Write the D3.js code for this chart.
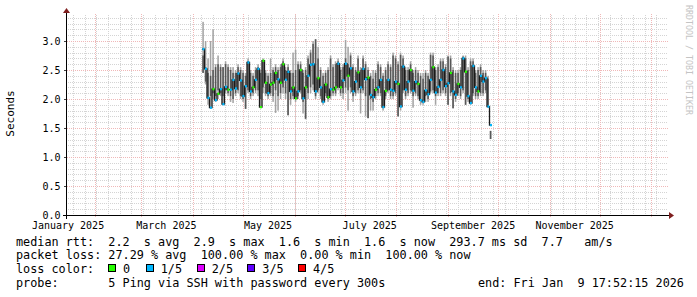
<!DOCTYPE html>
<html><head><meta charset="utf-8">
<script src="https://cdn.jsdelivr.net/npm/d3@7"></script>
<style>
body{margin:0;background:#fff}
svg{display:block}
text{font-family:"DejaVu Sans Mono",monospace;fill:#000}
</style>
</head><body>
<svg id="c" width="697" height="297"></svg>
<script>
// ---------------- data ----------------
const graphStart = new Date(2025, 0, 15, 9, 0);
const graphDays = 360;
const firstBin = new Date(2025, 3, 6, 9, 0);
const binHours = 36;

const median = [2.86,2.52,2.02,1.85,2.17,1.98,2.09,2.17,1.91,2.21,
 2.16,2.16,2.33,2.18,2.44,2.32,2.05,2.22,2.63,2.13,
 2.20,2.33,2.52,1.86,2.66,2.28,2.10,2.25,2.28,2.45,
 2.34,2.28,2.60,2.33,2.47,2.13,2.20,2.01,2.13,2.50,
 2.01,2.20,2.40,2.59,2.60,2.13,2.36,2.20,1.95,2.25,
 2.03,2.17,2.16,2.20,2.61,2.20,2.32,2.61,2.40,2.53,
 2.13,2.30,2.46,2.20,2.52,2.34,2.37,2.07,2.03,2.16,
 2.20,2.33,1.86,2.14,2.33,2.16,2.14,2.30,2.26,1.87,
 2.56,2.16,2.30,2.50,2.14,2.30,2.26,1.98,1.95,2.15,
 2.08,2.33,2.55,2.11,2.21,2.33,2.50,2.22,2.27,2.45,
 2.13,2.07,2.26,2.20,2.70,2.47,2.05,1.93,2.57,2.20,
 2.13,2.40,2.30,2.36,1.87,1.55];
// lost pings out of 5 per bin
const lostPings = [1,1,1,1,0,1,0,1,1,1,
 0,1,1,1,1,1,1,1,1,1,
 0,1,1,0,0,0,1,0,0,0,
 1,0,0,1,1,1,0,0,1,0,
 1,0,1,1,1,1,0,1,1,0,
 0,1,0,0,1,0,1,1,0,1,
 1,1,0,1,1,1,0,1,1,0,
 1,1,1,0,1,1,1,1,0,1,
 1,1,1,0,1,1,0,1,1,1,
 1,1,0,1,1,1,1,1,1,0,
 1,1,0,1,1,0,1,1,1,1,
 0,1,1,1,1,1];
const smokeMin = [2.45,2.25,1.90,1.85,2.00,1.95,2.00,2.05,1.90,2.10,
 2.05,1.95,1.93,2.05,2.10,2.00,1.95,1.83,2.10,2.00,
 2.05,2.10,2.05,1.86,2.10,2.05,2.00,2.05,1.95,1.76,
 1.80,2.00,2.10,2.00,1.72,1.90,2.00,1.95,2.00,2.10,
 1.75,1.65,2.00,2.10,2.15,2.00,2.10,2.00,1.90,2.05,
 1.95,2.00,2.05,2.05,2.15,2.05,2.00,2.10,1.80,2.10,
 1.95,2.05,2.10,1.75,2.10,1.70,1.67,1.80,1.80,2.00,
 2.05,2.05,1.80,2.00,2.10,2.00,2.00,2.05,1.70,1.80,
 2.10,2.00,2.05,2.10,1.85,2.05,2.00,1.90,1.90,1.95,
 1.95,2.10,2.10,1.90,2.05,2.05,2.10,2.05,1.90,2.05,
 1.84,1.95,2.05,2.00,2.10,1.90,1.95,1.90,2.05,2.00,
 2.00,2.05,2.05,2.10,1.85,1.31];
const smokeInnerMin = [2.45,2.30,2.00,2.05,2.10,2.05,2.15,2.10,2.05,2.15,
 2.10,2.05,2.00,2.10,2.15,2.05,2.00,1.83,2.15,2.05,
 2.10,2.15,2.15,2.00,2.20,2.10,2.05,2.10,2.05,2.15,
 2.05,2.10,2.20,2.10,1.72,2.00,2.05,2.00,2.05,2.15,
 1.95,1.66,2.10,2.20,2.25,2.05,2.15,2.05,1.95,2.10,
 2.00,2.05,2.10,2.10,2.20,2.10,2.10,2.20,2.15,2.20,
 2.05,2.10,2.15,2.10,2.15,2.05,1.67,2.00,1.95,2.05,
 2.10,2.10,1.86,2.05,2.15,2.05,2.05,2.10,1.70,1.87,
 2.15,2.05,2.10,2.15,2.05,2.10,2.05,1.98,1.95,2.05,
 2.00,2.13,2.15,2.05,2.10,2.10,2.15,2.10,1.90,2.10,
 1.84,2.00,2.10,2.05,2.15,1.90,2.00,1.93,2.10,2.05,
 2.05,2.10,2.10,2.15,1.87,1.31];
const smokeInnerMax = [2.75,2.55,2.45,2.40,2.50,2.55,2.60,2.55,2.55,2.60,
 2.55,2.50,2.45,2.45,2.55,2.50,2.45,2.40,2.65,2.45,
 2.40,2.50,2.55,2.45,2.66,2.45,2.40,2.45,2.50,2.55,
 2.50,2.55,2.65,2.50,2.55,2.45,2.45,2.50,2.60,2.60,
 2.45,2.50,2.70,2.80,2.95,3.03,2.70,2.50,2.40,2.45,
 2.50,2.70,2.55,2.60,2.65,2.50,2.55,2.70,2.60,2.75,
 2.55,2.50,2.70,2.50,2.70,2.60,2.50,2.40,2.35,2.45,
 2.60,2.55,2.40,2.50,2.60,2.55,2.75,2.70,2.60,2.76,
 2.70,2.50,2.50,2.60,2.45,2.50,2.45,2.40,2.35,2.45,
 2.40,2.76,2.75,2.50,2.55,2.65,2.65,2.55,2.73,2.70,
 2.50,2.45,2.45,2.50,2.73,2.70,2.50,2.65,2.65,2.45,
 2.50,2.55,2.45,2.45,2.35,1.45];
const smokeMax = [3.33,3.00,2.70,3.00,3.20,2.60,2.75,2.60,2.55,2.65,
 2.60,2.55,2.55,2.50,2.60,2.55,2.50,2.45,2.70,2.50,
 2.45,2.55,2.60,2.50,2.70,2.50,2.45,2.70,2.55,2.60,
 2.55,2.60,2.70,2.55,2.60,2.50,2.80,2.85,2.65,2.65,
 2.50,2.55,2.75,2.85,3.00,3.03,2.90,2.55,2.45,2.50,
 2.55,2.75,2.60,2.65,2.70,2.55,2.60,3.02,2.90,2.80,
 2.60,2.55,2.75,2.55,2.75,2.65,2.55,2.45,2.50,2.50,
 2.65,2.60,2.45,2.55,2.65,2.60,2.80,2.75,2.65,2.80,
 2.75,2.55,2.55,2.65,2.50,2.55,2.50,2.45,2.45,2.50,
 2.45,2.80,2.80,2.55,2.60,2.70,2.70,2.60,2.75,2.75,
 2.55,2.50,2.50,2.55,2.75,2.75,2.55,2.70,2.70,2.50,
 2.55,2.60,2.50,2.50,2.40,1.45];

const yTicks = [0, 0.5, 1.0, 1.5, 2.0, 2.5, 3.0];
const yLabel = "Seconds";
const lossLabels = ["0", "1/5", "2/5", "3/5", "4/5"];
const lossColors = ["#26ff00", "#00b8ff", "#dd00ff", "#5e00ff", "#ff0000"];
const legendMedian = "median rtt:  2.2  s avg  2.9  s max  1.6  s min  1.6  s now  293.7 ms sd  7.7   am/s";
const legendLoss = "packet loss: 27.29 % avg  100.00 % max  0.00 % min  100.00 % now";
const legendLossTitle = "loss color:";
const legendProbe = "probe:       5 Ping via SSH with password every 300s";
const legendEnd = "end: Fri Jan  9 17:52:15 2026";
const watermark = "RRDTOOL / TOBI OETIKER";

// ---------------- chart ----------------
const svg = d3.select("#c");
const X0 = 67, X1 = 667, Y0 = 215, Y1 = 15;
const tEnd = d3.timeDay.offset(graphStart, graphDays);
const x = d3.scaleTime().domain([graphStart, tEnd]).range([X0, X1]);
const y = d3.scaleLinear().domain([0, 200 / 58]).range([Y0, Y1]);

const gridCol = "#d4d4d4", mgridCol = "#f0b8b8";
const g = svg.append("g").attr("shape-rendering", "crispEdges");

// minor horizontal grid (0.1)
const minorY = d3.range(1, 35).map(i => i / 10).filter(v => Math.abs(v * 2 - Math.round(v * 2)) > 1e-6);
minorY.forEach(v => {
  const yy = Math.round(y(v)) + 0.5;
  g.append("line").attr("x1", X0 - 1).attr("x2", X1 + 1).attr("y1", yy).attr("y2", yy)
    .attr("stroke", gridCol).attr("stroke-dasharray", "1,1");
});
// minor vertical grid (weeks)
const weeks = d3.timeSunday.range(graphStart, tEnd);
weeks.forEach(t => {
  const xx = Math.round(x(t)) + 0.5;
  g.append("line").attr("x1", xx).attr("x2", xx).attr("y1", Y0 + 1).attr("y2", Y1 - 1)
    .attr("stroke", gridCol).attr("stroke-dasharray", "1,1");
});
// major horizontal grid
yTicks.filter(v => v > 0).forEach(v => {
  const yy = Math.round(y(v)) + 0.5;
  g.append("line").attr("x1", X0 - 2).attr("x2", X1 + 2).attr("y1", yy).attr("y2", yy)
    .attr("stroke", mgridCol).attr("stroke-dasharray", "1,1");
});
// major vertical grid (months)
const months = d3.timeMonth.range(d3.timeMonth.ceil(graphStart), tEnd);
months.forEach(t => {
  const xx = Math.round(x(t)) + 0.5;
  g.append("line").attr("x1", xx).attr("x2", xx).attr("y1", Y0 + 2).attr("y2", Y1 - 2)
    .attr("stroke", mgridCol).attr("stroke-dasharray", "1,1");
});
// y tick marks
yTicks.forEach(v => {
  const yy = Math.round(y(v)) + 0.5;
  g.append("line").attr("x1", X0 - 3).attr("x2", X0).attr("y1", yy).attr("y2", yy)
    .attr("stroke", "#404040");
});

// ---------------- smoke ----------------
const bins = median.map((m, i) => ({
  t0: d3.timeHour.offset(firstBin, i * binHours),
  t1: d3.timeHour.offset(firstBin, (i + 1) * binHours),
  m, lost: lostPings[i],
  lo: smokeMin[i], dlo: smokeInnerMin[i], dhi: smokeInnerMax[i], hi: smokeMax[i]
}));
const barW = d => (x(d.t1) - x(d.t0)) * 0.62;
const dg = svg.append("g");
dg.selectAll("rect.outer").data(bins).join("rect").attr("class", "outer")
  .attr("x", d => x(d.t0) + 0.3).attr("width", barW)
  .attr("y", d => y(d.hi)).attr("height", d => y(d.lo) - y(d.hi)).attr("fill", "#a4a4a4");
dg.selectAll("rect.inner").data(bins).join("rect").attr("class", "inner")
  .attr("x", d => x(d.t0) + 0.3).attr("width", barW)
  .attr("y", d => y(d.dhi)).attr("height", d => y(d.dlo) - y(d.dhi)).attr("fill", "#585858");

// median step line
const pts = bins.map(d => ({ t: d.t0, m: d.m }));
pts.push({ t: bins[bins.length - 1].t1, m: bins[bins.length - 1].m });
svg.append("path").datum(pts)
  .attr("d", d3.line().x(d => x(d.t)).y(d => y(d.m)).curve(d3.curveStepAfter))
  .attr("fill", "none").attr("stroke", "#1a1a1a").attr("stroke-width", 1.3);

// loss-coloured median marks
svg.selectAll("rect.med").data(bins).join("rect").attr("class", "med")
  .attr("x", d => x(d.t0) + 0.4).attr("width", 2)
  .attr("y", d => y(d.m) - 1.2).attr("height", 2.4)
  .attr("fill", d => lossColors[d.lost]);

// ---------------- axes ----------------
svg.append("line").attr("x1", X0 - 4).attr("x2", X1 + 4).attr("y1", Y0 + 0.5).attr("y2", Y0 + 0.5)
  .attr("stroke", "#000");
svg.append("line").attr("x1", X0 - 0.5).attr("x2", X0 - 0.5).attr("y1", Y0 + 4).attr("y2", Y1 - 4)
  .attr("stroke", "#000");
svg.append("path").attr("d", `M${X1 + 2},${Y0 - 3}L${X1 + 2},${Y0 + 4}L${X1 + 7},${Y0 + 0.5}Z`).attr("fill", "#7f1f1f");
svg.append("path").attr("d", `M${X0 - 4},${Y1 - 2}L${X0 + 3},${Y1 - 2}L${X0 - 0.5},${Y1 - 7}Z`).attr("fill", "#7f1f1f");

// y labels
svg.selectAll("text.yl").data(yTicks).join("text").attr("class", "yl")
  .attr("x", 60.5).attr("y", d => y(d) + 3.6).attr("text-anchor", "end")
  .style("font-size", "10px").text(d => d3.format(".1f")(d));
// x labels: every second month, centred mid-month
const labelMonths = d3.timeMonth.every(2).range(new Date(2025, 0, 1), tEnd)
  .filter(t => d3.timeDay.offset(t, 15) <= tEnd);
svg.selectAll("text.xl").data(labelMonths).join("text").attr("class", "xl")
  .attr("x", d => x(d3.timeDay.offset(d, 15))).attr("y", 228.5).attr("text-anchor", "middle")
  .style("font-size", "10px").text(d => d3.timeFormat("%B %Y")(d));
// axis title
svg.append("text").attr("transform", "translate(14,113.5) rotate(-90)").attr("text-anchor", "middle")
  .style("font-size", "11px").text(yLabel);
// watermark
svg.append("text").attr("transform", "translate(685.5,5) rotate(90)")
  .attr("textLength", 110).attr("lengthAdjust", "spacingAndGlyphs")
  .style("font-size", "8.5px").style("fill", "#c4c4c4").text(watermark);

// ---------------- legend ----------------
const lf = "11.8px";
const leg = svg.append("g").style("font-size", lf);
leg.append("text").attr("x", 16).attr("y", 245.5).style("white-space", "pre").text(legendMedian);
leg.append("text").attr("x", 16).attr("y", 259).style("white-space", "pre").text(legendLoss);
leg.append("text").attr("x", 16).attr("y", 273).style("white-space", "pre").text(legendLossTitle);
const boxX = [108, 145.7, 196.7, 247.3, 298];
lossLabels.forEach((lab, i) => {
  leg.append("rect").attr("x", Math.round(boxX[i]) + 0.5).attr("y", 264.5).attr("width", 7).attr("height", 7)
    .attr("fill", lossColors[i]).attr("stroke", "#000");
  leg.append("text").attr("x", boxX[i] + 15).attr("y", 273).text(lab);
});
leg.append("text").attr("x", 16).attr("y", 286.5).style("white-space", "pre").text(legendProbe);
leg.append("text").attr("x", 478).attr("y", 286.5).style("white-space", "pre").text(legendEnd);
</script>
</body></html>
